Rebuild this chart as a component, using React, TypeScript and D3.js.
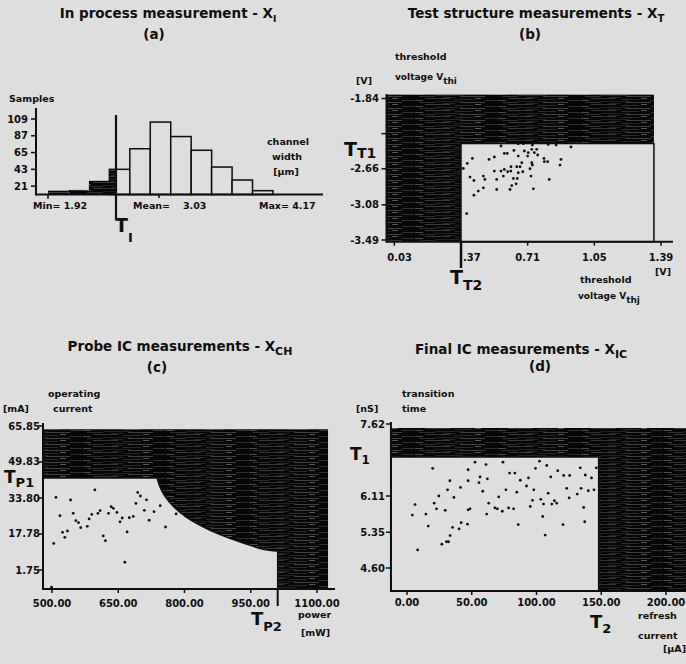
import React, { useEffect, useRef } from 'react';
import * as d3 from 'd3';

const W = 686;
const H = 664;
const BG = '#dedede';
const INK = '#0e0e0e';
const FONT = '"DejaVu Sans", "Liberation Sans", sans-serif';

// (a) in process measurement: channel width histogram
const widthMin = 1.92;
const widthMax = 4.17;
const widthMean = 3.03;
const thresholdI = 2.6;
const sampleCounts = [15, 16, 28, 43, 70, 105, 86, 68, 46, 29, 15];
const sampleTicks = [21, 43, 65, 87, 109];

// (b) test structure measurements: Vthj (x) vs Vthi (y)
const vthjTicks = [0.03, 0.37, 0.71, 1.05, 1.39];
const vthjLabels = ['0.03', '.37', '0.71', '1.05', '1.39'];
const vthiTicks = [-1.84, -2.25, -2.66, -3.08, -3.49];
const vthiLabels = ['-1.84', '', '-2.66', '-3.08', '-3.49'];
const limitTT1 = -2.365;
const limitTT2 = 0.37;
const testPoints = [
  [0.574, -2.394], [0.662, -2.367], [0.688, -2.367], [0.734, -2.382], [0.731, -2.433], [0.756, -2.433],
  [0.815, -2.375], [0.855, -2.382], [0.931, -2.405], [0.591, -2.48], [0.606, -2.48], [0.64, -2.445],
  [0.693, -2.452], [0.713, -2.472], [0.744, -2.472], [0.761, -2.499], [0.662, -2.511], [0.71, -2.511],
  [0.793, -2.539], [0.795, -2.577], [0.812, -2.577], [0.88, -2.55], [0.875, -2.616], [0.428, -2.539],
  [0.402, -2.597], [0.382, -2.656], [0.513, -2.55], [0.54, -2.522], [0.625, -2.636], [0.68, -2.589],
  [0.671, -2.636], [0.654, -2.636], [0.731, -2.589], [0.734, -2.616], [0.722, -2.659], [0.591, -2.667],
  [0.574, -2.686], [0.608, -2.694], [0.624, -2.686], [0.54, -2.686], [0.586, -2.745], [0.662, -2.706],
  [0.685, -2.694], [0.727, -2.745], [0.416, -2.756], [0.436, -2.796], [0.484, -2.745], [0.492, -2.784],
  [0.552, -2.784], [0.637, -2.773], [0.657, -2.773], [0.651, -2.835], [0.82, -2.784], [0.629, -2.855],
  [0.62, -2.901], [0.552, -2.901], [0.484, -2.882], [0.458, -2.92], [0.436, -2.967], [0.739, -2.893],
  [0.399, -3.182],
];

// (c) probe IC measurements: power (x) vs operating current (y)
const powerTicks = [500, 650, 800, 950, 1100];
const powerLabels = ['500.00', '650.00', '800.00', '950.00', '1100.00'];
const currentTicks = [65.85, 49.83, 33.8, 17.78, 1.75];
const currentLabels = ['65.85', '49.83', '33.80', '17.78', '1.75'];
const limitTP1 = 42.7;
const limitTP2 = 1011;
const powerCurve = [
  [738, 42.7], [745, 38.5], [756, 34.5], [775, 30.0], [805, 25.2], [850, 20.2],
  [895, 16.4], [940, 13.3], [978, 11.0], [1011, 10.2],
];
const probePoints = [
  [509, 34.1], [597, 37.4], [542, 32.9], [694, 36.3], [700, 34.7], [714, 33.0], [690, 31.4], [745, 30.4],
  [634, 29.9], [639, 29.2], [518, 25.9], [548, 27.0], [590, 26.5], [604, 27.0], [609, 28.2], [628, 27.0],
  [647, 27.4], [709, 28.3], [731, 27.7], [781, 26.7], [584, 24.5], [554, 23.7], [560, 22.8], [565, 20.6],
  [580, 21.2], [659, 24.9], [654, 23.2], [675, 25.0], [684, 25.6], [720, 23.9], [757, 20.9], [524, 18.5],
  [535, 19.1], [529, 16.3], [670, 18.7], [616, 16.9], [621, 14.8], [504, 13.6], [665, 5.2], [499, -5.9],
];

// (d) final IC measurements: refresh current (x) vs transition time (y)
const refreshTicks = [0, 50, 100, 150, 200];
const refreshLabels = ['0.00', '50.00', '100.00', '150.00', '200.00'];
const timeTicks = [7.62, 6.11, 5.35, 4.6];
const timeLabels = ['7.62', '6.11', '5.35', '4.60'];
const limitT1 = 6.928;
const limitT2 = 148;
const finalPoints = [
  [19.8, 6.69], [52.5, 6.82], [47.2, 6.66], [61.0, 6.77], [74.1, 6.82], [79.2, 6.59], [83.3, 6.59], [99.2, 6.69],
  [102.3, 6.84], [107.9, 6.75], [116.4, 6.64], [121.0, 6.54], [125.6, 6.54], [133.8, 6.7], [137.7, 6.55],
  [142.5, 6.49], [146.2, 6.7], [33.1, 6.43], [47.2, 6.43], [56.4, 6.51], [62.1, 6.47], [55.6, 6.39],
  [87.5, 6.44], [93.8, 6.49], [92.3, 6.32], [76.4, 6.24], [84.8, 6.19], [97.9, 6.24], [109.0, 6.17],
  [111.0, 6.51], [123.3, 6.27], [134.4, 6.27], [140.0, 6.22], [144.4, 6.24], [31.3, 6.24], [41.3, 6.29],
  [58.5, 6.21], [24.6, 6.11], [36.2, 6.08], [70.8, 6.09], [125.2, 6.07], [131.5, 6.15], [21.0, 5.96],
  [6.2, 5.93], [22.8, 5.84], [29.5, 5.81], [47.2, 5.82], [48.7, 5.84], [63.1, 5.96], [67.9, 5.86],
  [69.8, 5.84], [78.5, 5.86], [82.3, 5.84], [73.6, 5.79], [95.2, 5.89], [96.9, 6.02], [103.3, 6.04],
  [105.4, 5.94], [111.8, 5.94], [113.8, 6.01], [115.6, 5.96], [136.4, 5.87], [4.1, 5.71], [14.6, 5.73],
  [61.5, 5.73], [16.4, 5.48], [35.2, 5.45], [41.8, 5.55], [40.2, 5.42], [46.7, 5.52], [85.9, 5.51],
  [104.8, 5.68], [120.5, 5.51], [137.2, 5.57], [33.3, 5.28], [26.9, 5.1], [30.5, 5.15], [32.1, 5.15],
  [106.7, 5.29], [8.2, 4.98],
];

const App = () => {
  const ref = useRef<SVGSVGElement>(null);

  useEffect(() => {
    const svg = d3.select(ref.current);
    svg.selectAll('*').remove();
    svg.append('rect').attr('width', W).attr('height', H).attr('fill', BG);

    // dark streaky fill used for the rejected regions
    const pat = svg.append('defs').append('pattern')
      .attr('id', 'hatch').attr('patternUnits', 'userSpaceOnUse')
      .attr('width', 83).attr('height', 6);
    pat.append('rect').attr('width', 83).attr('height', 6).attr('fill', '#070707');
    const streaks: [number, number, number, string][] = [
      [0.5, 4, 20, '#4a4a4a'], [0.5, 45, 70, '#666'], [1.5, 28, 40, '#3a3a3a'],
      [2.5, 10, 35, '#555'], [2.5, 60, 66, '#8a8a8a'], [3.5, 40, 58, '#404040'],
      [4.5, 0, 8, '#777'], [4.5, 70, 82, '#4a4a4a'], [5.5, 20, 48, '#333'],
    ];
    streaks.forEach(([y, x1, x2, c]) => pat.append('line')
      .attr('x1', x1).attr('x2', x2).attr('y1', y).attr('y2', y)
      .attr('stroke', c).attr('stroke-width', 0.6));

    const txt = (x: number, y: number, s: string, size = 10, anchor = 'start') =>
      svg.append('text')
        .attr('x', x).attr('y', y)
        .attr('font-family', FONT).attr('font-weight', 'bold')
        .attr('font-size', size).attr('text-anchor', anchor)
        .attr('fill', INK)
        .text(s);

    const subTxt = (x: number, y: number, main: string, sub: string, size: number, subSize: number, dy: number, anchor = 'start') => {
      const t = txt(x, y, '', size, anchor);
      t.append('tspan').text(main);
      t.append('tspan').attr('font-size', subSize).attr('dy', dy).text(sub);
      return t;
    };

    const line = (x1: number, y1: number, x2: number, y2: number, w = 2) =>
      svg.append('line').attr('x1', x1).attr('y1', y1).attr('x2', x2).attr('y2', y2)
        .attr('stroke', INK).attr('stroke-width', w);

    const yTicks = (scale: d3.ScaleLinear<number, number>, axisX: number, values: number[], labels: string[], labelX: number) => {
      values.forEach((v, i) => {
        const y = scale(v);
        line(axisX - 5, y, axisX, y, 1.5);
        if (labels[i]) txt(labelX, y + 3.5, labels[i], 10, 'end');
      });
    };

    const dots = (pts: number[][], x: d3.ScaleLinear<number, number>, y: d3.ScaleLinear<number, number>) => {
      svg.append('g').selectAll('circle').data(pts).enter().append('circle')
        .attr('cx', d => x(d[0])).attr('cy', d => y(d[1]))
        .attr('r', 1.4).attr('fill', INK);
    };

    // ---------- (a) ----------
    subTxt(168, 18, 'In process measurement - X', 'I', 13.5, 9, 4, 'middle');
    txt(154, 39, '(a)', 13.5, 'middle');
    txt(9, 102, 'Samples', 9.5);

    const xA = d3.scaleLinear().domain([widthMin, widthMax]).range([48, 273]);
    // histogram baseline sits at 10 samples on this axis
    const yA = d3.scaleLinear().domain([10, 109]).range([194.5, 119]);
    const binW = (widthMax - widthMin) / sampleCounts.length;
    sampleCounts.forEach((n, i) => {
      const x0 = widthMin + i * binW;
      const x1 = x0 + binW;
      const top = yA(n);
      const h = yA(10) - top;
      if (x1 <= thresholdI) {
        svg.append('rect').attr('x', xA(x0)).attr('y', top).attr('width', xA(x1) - xA(x0)).attr('height', h)
          .attr('fill', 'url(#hatch)');
      } else {
        svg.append('rect').attr('x', xA(x0)).attr('y', top).attr('width', xA(x1) - xA(x0)).attr('height', h)
          .attr('fill', BG).attr('stroke', INK).attr('stroke-width', 1.5);
        if (x0 < thresholdI) {
          svg.append('rect').attr('x', xA(x0)).attr('y', top).attr('width', xA(thresholdI) - xA(x0)).attr('height', h)
            .attr('fill', 'url(#hatch)');
        }
      }
    });
    line(36, 108, 36, 195.5, 2);
    line(36, 194.5, 323, 194.5, 2);
    yTicks(yA, 36, sampleTicks, sampleTicks.map(String), 28);
    line(xA(widthMin), 194.5, xA(widthMin), 199, 1.5);
    line(xA(widthMean), 194.5, xA(widthMean), 198, 1.5);
    line(xA(thresholdI), 115, xA(thresholdI), 219, 2.2);
    txt(33, 209, 'Min= 1.92', 9.5);
    txt(133, 209, 'Mean=', 9.5);
    txt(183, 209, widthMean.toFixed(2), 9.5);
    txt(259, 209, 'Max= 4.17', 9.5);
    txt(288, 145, 'channel', 9.5, 'middle');
    txt(287, 159.5, 'width', 9.5, 'middle');
    txt(286, 175, '[µm]', 9.5, 'middle');
    subTxt(115, 232, 'T', 'I', 19, 13, 10);

    // ---------- (b) ----------
    subTxt(536, 18, 'Test structure measurements - X', 'T', 13.5, 10, 4, 'middle');
    txt(530, 39, '(b)', 13.5, 'middle');
    txt(395, 60, 'threshold', 9.5);
    subTxt(395, 80, 'voltage V', 'thi', 9, 9, 4);
    txt(356, 84, '[V]', 9.5);

    const xB = d3.scaleLinear().domain([0.37, 1.39]).range([461, 661]);
    const yB = d3.scaleLinear().domain([-1.84, -3.49]).range([98.5, 240]);
    const bLeft = -0.01, bRight = 1.354, bTop = -1.795, bBottom = -3.51;
    svg.append('rect').attr('x', xB(bLeft)).attr('y', yB(bTop))
      .attr('width', xB(bRight) - xB(bLeft)).attr('height', yB(bBottom) - yB(bTop))
      .attr('fill', 'url(#hatch)');
    svg.append('rect').attr('x', xB(limitTT2)).attr('y', yB(limitTT1))
      .attr('width', xB(bRight) - xB(limitTT2)).attr('height', yB(bBottom) - yB(limitTT1))
      .attr('fill', BG).attr('stroke', INK).attr('stroke-width', 1.5);
    dots(testPoints, xB, yB);
    line(xB(bLeft), 94, xB(bLeft), yB(bBottom) + 1, 2);
    line(xB(bLeft), yB(bBottom), 673, yB(bBottom), 2);
    yTicks(yB, xB(bLeft), vthiTicks, vthiLabels, 379);
    vthjTicks.forEach((v, i) => {
      line(xB(v), yB(bBottom), xB(v), yB(bBottom) + 4, 1.5);
      if (i === 0) txt(xB(v) - 7, 261, vthjLabels[i], 10);
      else if (i === 1) txt(xB(v) + 2, 261, vthjLabels[i], 10);
      else txt(xB(v), 261, vthjLabels[i], 10, 'middle');
    });
    line(xB(limitTT2), yB(bBottom), xB(limitTT2), 268, 2.5);
    subTxt(344, 156, 'T', 'T1', 19, 14, 2);
    subTxt(450, 284, 'T', 'T2', 19, 14, 6);
    txt(655, 275, '[V]', 9.5);
    txt(580, 283, 'threshold', 9.5);
    subTxt(578, 299, 'voltage V', 'thj', 9, 9, 4);

    // ---------- (c) ----------
    subTxt(180, 351, 'Probe IC measurements - X', 'CH', 13.5, 11, 4, 'middle');
    txt(157, 372, '(c)', 13.5, 'middle');
    txt(48, 397, 'operating', 9.5);
    txt(53, 412, 'current', 9.5);
    txt(3, 412, '[mA]', 9.5);

    const xC = d3.scaleLinear().domain([500, 1100]).range([52, 317]);
    const yC = d3.scaleLinear().domain([1.75, 65.85]).range([570, 426]);
    const cLeft = 479.6, cRight = 1125, cTop = 64.4, cBottom = -6.7;
    svg.append('rect').attr('x', xC(cLeft)).attr('y', yC(cTop))
      .attr('width', xC(cRight) - xC(cLeft)).attr('height', yC(cBottom) - yC(cTop))
      .attr('fill', 'url(#hatch)');
    const curvePath = d3.line<number[]>()
      .x(d => xC(d[0])).y(d => yC(d[1]))
      .curve(d3.curveCatmullRom.alpha(0.5))(powerCurve) || '';
    const okPath = `M${xC(cLeft)},${yC(limitTP1)}` + curvePath.replace(/^M/, 'L') +
      `L${xC(limitTP2)},${yC(cBottom)}L${xC(cLeft)},${yC(cBottom)}Z`;
    svg.append('path').attr('d', okPath)
      .attr('fill', BG).attr('stroke', INK).attr('stroke-width', 1.5);
    dots(probePoints, xC, yC);
    line(xC(cLeft), 423, xC(cLeft), yC(cBottom) + 1, 2);
    line(xC(cLeft), yC(cBottom), 335, yC(cBottom), 2);
    yTicks(yC, xC(cLeft), currentTicks, currentLabels, 40);
    powerTicks.forEach((v, i) => {
      line(xC(v), yC(cBottom), xC(v), yC(cBottom) + 4, 1.5);
      txt(xC(v), 607, powerLabels[i], 10, 'middle');
    });
    line(xC(limitTP2), yC(cBottom), xC(limitTP2), 606, 2);
    subTxt(4, 483, 'T', 'P1', 17, 13, 4);
    subTxt(251, 625, 'T', 'P2', 18, 13, 6);
    txt(298, 618, 'power', 9.5);
    txt(301, 636, '[mW]', 9.5);

    // ---------- (d) ----------
    subTxt(521, 354, 'Final IC measurements - X', 'IC', 13.5, 11, 4, 'middle');
    txt(540, 371, '(d)', 13.5, 'middle');
    txt(402, 397, 'transition', 9.5);
    txt(402, 412, 'time', 9.5);
    txt(356, 412, '[nS]', 9.5);

    const xD = d3.scaleLinear().domain([0, 200]).range([407, 666]);
    const yD = d3.scaleLinear().domain([4.6, 7.62]).range([568, 424]);
    const dLeft = -12.4, dRight = 216, dTop = 7.536, dBottom = 4.118;
    svg.append('rect').attr('x', xD(dLeft)).attr('y', yD(dTop))
      .attr('width', xD(dRight) - xD(dLeft)).attr('height', yD(dBottom) - yD(dTop))
      .attr('fill', 'url(#hatch)');
    svg.append('rect').attr('x', xD(dLeft)).attr('y', yD(limitT1))
      .attr('width', xD(limitT2) - xD(dLeft)).attr('height', yD(dBottom) - yD(limitT1))
      .attr('fill', BG).attr('stroke', INK).attr('stroke-width', 1.5);
    dots(finalPoints, xD, yD);
    line(xD(dLeft), 422, xD(dLeft), yD(dBottom) + 1, 2);
    line(xD(dLeft), yD(dBottom), W, yD(dBottom), 2);
    yTicks(yD, xD(dLeft), timeTicks, timeLabels, 385);
    refreshTicks.forEach((v, i) => {
      line(xD(v), yD(dBottom), xD(v), yD(dBottom) + 4, 1.5);
      txt(xD(v), 606, refreshLabels[i], 10, 'middle');
    });
    subTxt(350, 460, 'T', '1', 17, 12, 4);
    subTxt(590, 628, 'T', '2', 18, 13, 5);
    txt(638, 619, 'refresh', 9.5);
    txt(638, 639, 'current', 9.5);
    txt(686, 652, '[µA]', 9.5, 'end');
  }, []);

  return (
    <svg
      ref={ref}
      width={W}
      height={H}
      style={{ position: 'absolute', left: 0, top: 0, display: 'block' }}
    />
  );
};

export default App;
